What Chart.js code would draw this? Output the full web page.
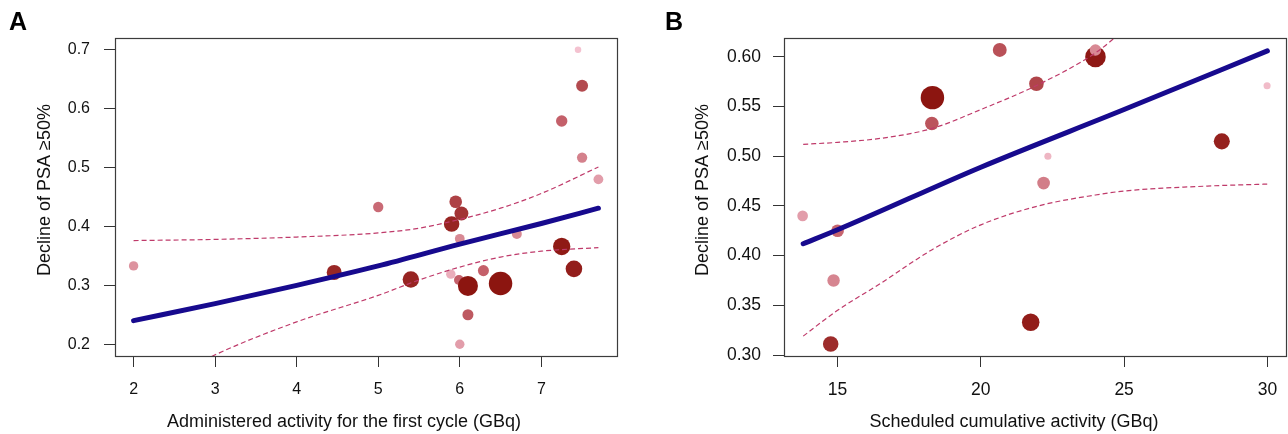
<!DOCTYPE html>
<html>
<head>
<meta charset="utf-8">
<script src="https://cdn.jsdelivr.net/npm/chart.js@4.4.1/dist/chart.umd.min.js"></script>
<style>
  body { margin: 0; background: #fff; }
  .panel { position: absolute; top: 0; height: 434px; }
  #pa { left: 0; width: 640px; }
  #pb { left: 640px; width: 648px; }
</style>
</head>
<body>
<div class="panel" id="pa"><canvas id="chartA"></canvas></div>
<div class="panel" id="pb"><canvas id="chartB"></canvas></div>
<script>
// ---- panel A: administered activity, first cycle (GBq) ----
const activityA = [7.45, 7.50, 7.25, 7.50, 7.70, 5.00, 5.95, 6.02, 5.90, 6.00, 6.70, 7.25,
                   7.40, 5.40, 5.89, 6.29, 5.99, 6.10, 6.50, 6.10, 6.00, 2.00, 4.46];
const psaA      = [0.700, 0.639, 0.579, 0.517, 0.480, 0.433, 0.442, 0.422, 0.404, 0.379, 0.387, 0.366,
                   0.328, 0.310, 0.319, 0.325, 0.309, 0.299, 0.303, 0.250, 0.200, 0.333, 0.322];
// relative weight (bubble size) and intensity (bubble shade), 0..1
const weightA   = [0.03, 0.33, 0.30, 0.24, 0.21, 0.24, 0.37, 0.44, 0.53, 0.21, 0.22, 0.63,
                   0.59, 0.58, 0.19, 0.28, 0.22, 0.78, 0.97, 0.28, 0.19, 0.19, 0.50];
const shadeA    = [0.02, 0.65, 0.50, 0.34, 0.20, 0.45, 0.70, 0.80, 0.90, 0.30, 0.30, 0.97,
                   0.94, 0.90, 0.12, 0.50, 0.50, 1.00, 1.00, 0.55, 0.20, 0.25, 0.88];
const fitXA   = [2, 3, 4, 5, 6, 7, 7.7];
const fitA    = [0.240, 0.269, 0.300, 0.333, 0.370, 0.405, 0.431];
const ciXA    = [2, 3, 4, 5, 5.5, 6, 6.5, 7, 7.7];
const upperA  = [0.376, 0.378, 0.382, 0.389, 0.397, 0.412, 0.431, 0.456, 0.501];
const lowerA  = [0.110, 0.182, 0.238, 0.283, 0.309, 0.331, 0.348, 0.358, 0.364];
const xTicksA = [2, 3, 4, 5, 6, 7];
const yTicksA = [0.2, 0.3, 0.4, 0.5, 0.6, 0.7];

// ---- panel B: scheduled cumulative activity (GBq) ----
const activityB = [20.66, 21.94, 18.31, 18.29, 22.34, 22.19, 13.78, 15.00, 14.86, 14.76, 21.74,
                   24.00, 24.00, 28.41, 29.99];
const psaB      = [0.607, 0.573, 0.559, 0.533, 0.500, 0.473, 0.440, 0.425, 0.375, 0.311, 0.333,
                   0.600, 0.607, 0.515, 0.571];
const weightB   = [0.44, 0.48, 0.97, 0.42, 0.06, 0.37, 0.26, 0.37, 0.36, 0.53, 0.64,
                   0.81, 0.30, 0.56, 0.06];
const shadeB    = [0.60, 0.68, 1.00, 0.58, 0.08, 0.36, 0.20, 0.48, 0.32, 0.85, 0.95,
                   0.98, 0.30, 0.92, 0.05];
const fitXB   = [13.8, 15, 20, 25, 30];
const fitB    = [0.412, 0.426, 0.489, 0.547, 0.606];
const ciXB    = [13.8, 15, 16.5, 18.3, 20, 22, 24, 25, 27.9, 30];
const upperB  = [0.512, 0.514, 0.518, 0.528, 0.547, 0.572, 0.604, 0.627, null, null];
const lowerB  = [0.319, 0.345, 0.372, 0.406, 0.431, 0.450, 0.461, 0.465, 0.470, 0.472];
const xTicksB = [15, 20, 25, 30];
const yTicksB = [0.30, 0.35, 0.40, 0.45, 0.50, 0.55, 0.60];

const FONT = "'Liberation Sans', Arial, Helvetica, sans-serif";
const PALE = [246, 198, 212], MID = [196, 96, 106], DARK = [140, 21, 16];

function shade(t) {
  const a = t < 0.5 ? PALE : MID, b = t < 0.5 ? MID : DARK;
  const s = t < 0.5 ? t / 0.5 : (t - 0.5) / 0.5;
  const c = a.map((v, i) => Math.round(v + (b[i] - v) * s));
  return `rgb(${c[0]},${c[1]},${c[2]})`;
}

function pts(xs, ys) {
  return xs.map((x, i) => ({ x: x, y: ys[i] })).filter(p => p.y !== null);
}

// box, panel letter and axis titles
const frame = {
  id: 'frame',
  afterDraw(chart, args, o) {
    const { ctx, chartArea: a } = chart;
    ctx.save();
    ctx.strokeStyle = '#3c3c3c';
    ctx.lineWidth = 1.2;
    ctx.strokeRect(a.left + 0.5, a.top + 0.5, a.right - a.left, a.bottom - a.top);

    ctx.fillStyle = '#000';
    ctx.textBaseline = 'alphabetic';
    ctx.font = `bold 25px ${FONT}`;
    ctx.textAlign = 'left';
    ctx.fillText(o.letter, o.letterX, 30);

    ctx.font = `${o.titleSize}px ${FONT}`;
    ctx.fillStyle = '#111';
    ctx.textAlign = 'center';
    ctx.fillText(o.xTitle, o.xTitleX, 427);

    ctx.translate(o.yTitleX, 190);
    ctx.rotate(-Math.PI / 2);
    ctx.fillText(o.yTitle, 0, 0);
    ctx.restore();
  }
};

function panel(id, d) {
  const tickFont = { family: FONT, size: d.tickSize, lineHeight: 1.2 };
  const grid = { drawOnChartArea: false, drawTicks: true, tickLength: 11, color: '#333', lineWidth: 1 };
  return new Chart(document.getElementById(id), {
    type: 'scatter',
    data: {
      datasets: [
        { type: 'line', data: pts(d.fitX, d.fit), borderColor: '#170a8e', borderWidth: 5,
          borderCapStyle: 'round', pointRadius: 0, cubicInterpolationMode: 'monotone', order: 0 },
        { type: 'line', data: pts(d.ciX, d.upper), borderColor: '#bf3a6a', borderWidth: 1.2,
          borderDash: [5, 3], pointRadius: 0, cubicInterpolationMode: 'monotone', order: 1 },
        { type: 'line', data: pts(d.ciX, d.lower), borderColor: '#bf3a6a', borderWidth: 1.2,
          borderDash: [5, 3], pointRadius: 0, cubicInterpolationMode: 'monotone', order: 1 },
        { data: pts(d.x, d.y), order: 2, pointBorderWidth: 0,
          pointRadius: c => 3 + 9 * d.w[c.dataIndex],
          pointBackgroundColor: c => shade(d.s[c.dataIndex]) }
      ]
    },
    options: {
      responsive: true,
      maintainAspectRatio: false,
      animation: false,
      events: [],
      layout: { autoPadding: false, padding: { left: 0, right: d.padRight, top: 38, bottom: 0 } },
      plugins: { legend: { display: false }, tooltip: { enabled: false }, frame: d.frame },
      scales: {
        x: {
          type: 'linear', min: d.xMin, max: d.xMax,
          afterFit: s => { s.height = 78; s.paddingLeft = 0; s.paddingRight = 0; },
          afterBuildTicks: s => { s.ticks = d.xTicks.map(v => ({ value: v })); },
          grid: grid, border: { display: false },
          ticks: { font: tickFont, color: '#111', padding: 13, maxRotation: 0, autoSkip: false,
                   callback: v => String(v) }
        },
        y: {
          type: 'linear', min: d.yMin, max: d.yMax,
          afterFit: s => { s.width = d.yWidth; s.paddingTop = 0; s.paddingBottom = 0; },
          afterBuildTicks: s => { s.ticks = d.yTicks.map(v => ({ value: v })); },
          grid: grid, border: { display: false },
          ticks: { font: tickFont, color: '#111', padding: d.yPad, autoSkip: false,
                   callback: v => v.toFixed(d.yDec) }
        }
      }
    },
    plugins: [frame]
  });
}

panel('chartA', {
  x: activityA, y: psaA, w: weightA, s: shadeA,
  fitX: fitXA, fit: fitA, ciX: ciXA, upper: upperA, lower: lowerA,
  xTicks: xTicksA, yTicks: yTicksA, yDec: 1,
  xMin: 1.772, xMax: 7.928, yMin: 0.18, yMax: 0.72,
  yWidth: 115, padRight: 23, yPad: 14, tickSize: 16,
  frame: { letter: 'A', letterX: 9, titleSize: 18,
           xTitle: 'Administered activity for the first cycle (GBq)', xTitleX: 344,
           yTitle: 'Decline of PSA \u226550%', yTitleX: 50 }
});

panel('chartB', {
  x: activityB, y: psaB, w: weightB, s: shadeB,
  fitX: fitXB, fit: fitB, ciX: ciXB, upper: upperB, lower: lowerB,
  xTicks: xTicksB, yTicks: yTicksB, yDec: 2,
  xMin: 13.13, xMax: 30.65, yMin: 0.299, yMax: 0.619,
  yWidth: 144, padRight: 2, yPad: 12, tickSize: 17.5,
  frame: { letter: 'B', letterX: 25, titleSize: 18,
           xTitle: 'Scheduled cumulative activity (GBq)', xTitleX: 374,
           yTitle: 'Decline of PSA \u226550%', yTitleX: 68 }
});
</script>
</body>
</html>
